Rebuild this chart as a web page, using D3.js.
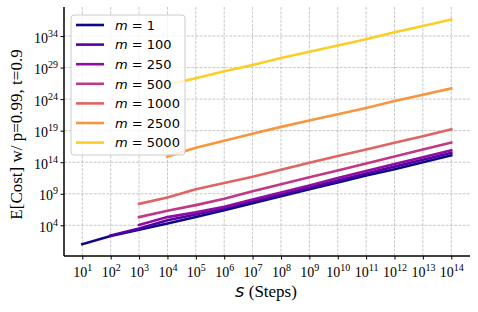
<!DOCTYPE html>
<html>
<head>
<meta charset="utf-8">
<script src="https://cdn.jsdelivr.net/npm/d3@7"></script>
<style>
  body { margin: 0; background: #fff; }
  svg { display: block; }
</style>
</head>
<body>
<svg id="chart"></svg>
<script>
const width = 478;
const height = 312;

// series labels (m values) and the steps at which each series starts
const mValues = [1, 100, 250, 500, 1000, 2500, 5000];
const startExp = [1, 2, 3, 3, 3, 4, 4];

// log10 of E[Cost], one value per decade of s starting at startExp
const cost_m1    = [1.0, 2.3, 3.3, 4.3, 5.3, 6.4, 7.5, 8.6, 9.7, 10.8, 11.9, 12.9, 14.0, 15.1];
const cost_m100  = [2.4, 3.5, 4.8, 5.7, 6.7, 7.8, 8.9, 10.0, 11.1, 12.2, 13.3, 14.4, 15.5];
const cost_m250  = [4.05, 5.3, 6.05, 6.95, 8.1, 9.2, 10.3, 11.5, 12.6, 13.7, 14.8, 15.9];
const cost_m500  = [5.3, 6.3, 7.2, 8.2, 9.4, 10.5, 11.6, 12.7, 13.8, 14.9, 16.0, 17.1];
const cost_m1000 = [7.4, 8.4, 9.7, 10.7, 11.7, 12.8, 13.9, 15.0, 16.0, 17.1, 18.1, 19.2];
const cost_m2500 = [14.9, 16.3, 17.4, 18.5, 19.6, 20.6, 21.6, 22.6, 23.7, 24.7, 25.7];
const cost_m5000 = [26.3, 27.3, 28.4, 29.4, 30.5, 31.5, 32.5, 33.5, 34.6, 35.6, 36.6];

const allCosts = [cost_m1, cost_m100, cost_m250, cost_m500, cost_m1000, cost_m2500, cost_m5000];

const xTickExps = d3.range(1, 15);
const yTickExps = [4, 9, 14, 19, 24, 29, 34];

const margin = {left: 64, right: 8, top: 7, bottom: 56};

const x = d3.scaleLog()
  .domain([Math.pow(10, 0.355), Math.pow(10, 14.66)])
  .range([margin.left, width - margin.right]);
const y = d3.scaleLog()
  .domain([Math.pow(10, -0.865), Math.pow(10, 38.6)])
  .range([height - margin.bottom, margin.top]);

const color = i => d3.interpolatePlasma(i * 0.15);

const svg = d3.select('#chart')
  .attr('width', width)
  .attr('height', height);

// grid
const grid = svg.append('g');
grid.selectAll('.vg').data(xTickExps).enter().append('line')
  .attr('x1', d => x(Math.pow(10, d))).attr('x2', d => x(Math.pow(10, d)))
  .attr('y1', margin.top).attr('y2', height - margin.bottom);
grid.selectAll('.hg').data(yTickExps).enter().append('line')
  .attr('y1', d => y(Math.pow(10, d))).attr('y2', d => y(Math.pow(10, d)))
  .attr('x1', margin.left).attr('x2', width - margin.right);
grid.selectAll('line')
  .attr('stroke', '#b0b0b0')
  .attr('stroke-width', 0.8)
  .attr('stroke-dasharray', '2.96,1.28')
  .attr('opacity', 0.85);

// lines
const line = d3.line()
  .x(d => x(Math.pow(10, d[0])))
  .y(d => y(Math.pow(10, d[1])));

allCosts.forEach((vals, i) => {
  const pts = vals.map((v, j) => [startExp[i] + j, v]);
  svg.append('path')
    .datum(pts)
    .attr('d', line)
    .attr('fill', 'none')
    .attr('stroke', color(i))
    .attr('stroke-width', 2.6)
    .attr('stroke-linecap', 'square')
    .attr('stroke-linejoin', 'round');
});

// axes
const xAxis = svg.append('g')
  .attr('transform', `translate(0,${height - margin.bottom})`)
  .call(d3.axisBottom(x).tickValues(xTickExps.map(d => Math.pow(10, d))).tickSize(3.5).tickSizeOuter(0));
xAxis.select('.domain').attr('d', `M${margin.left},0H${width - margin.right}`).attr('stroke-width', 1.5);
xAxis.selectAll('.tick line').attr('stroke-width', 1);
xAxis.selectAll('.tick text').each(function(d) {
  const t = d3.select(this).text('')
    .attr('y', 21).attr('dy', null)
    .attr('font-family', '"Liberation Serif", "Times New Roman", serif')
    .attr('font-size', 14).attr('fill', '#000');
  t.append('tspan').text('10');
  t.append('tspan').text(Math.round(Math.log10(d))).attr('font-size', 10).attr('dy', -6);
});

const yAxis = svg.append('g')
  .attr('transform', `translate(${margin.left},0)`)
  .call(d3.axisLeft(y).tickValues(yTickExps.map(d => Math.pow(10, d))).tickSize(3.5).tickSizeOuter(0));
yAxis.select('.domain').attr('d', `M0,${margin.top}V${height - margin.bottom}`).attr('stroke-width', 1.5);
yAxis.selectAll('.tick line').attr('stroke-width', 1);
yAxis.selectAll('.tick text').each(function(d) {
  const t = d3.select(this).text('')
    .attr('x', -6).attr('dy', null)
    .attr('text-anchor', 'end')
    .attr('font-family', '"Liberation Serif", "Times New Roman", serif')
    .attr('font-size', 14).attr('fill', '#000');
  t.append('tspan').text('10').attr('dy', 6);
  t.append('tspan').text(Math.round(Math.log10(d))).attr('font-size', 10).attr('dy', -6);
});

// axis titles
const xt = svg.append('text')
  .attr('x', 266).attr('y', 297)
  .attr('text-anchor', 'middle')
  .attr('font-family', '"Liberation Serif", "Times New Roman", serif')
  .attr('font-size', 17);
xt.append('tspan').text('s').attr('font-family', '"DejaVu Sans", sans-serif').attr('font-style', 'italic').attr('font-size', 18);
xt.append('tspan').text(' (Steps)');

svg.append('text')
  .attr('transform', `translate(22,${(margin.top + height - margin.bottom) / 2 + 3}) rotate(-90)`)
  .attr('text-anchor', 'middle')
  .attr('font-family', '"Liberation Serif", "Times New Roman", serif')
  .attr('font-size', 17)
  .text('E[Cost] w/ p=0.99, t=0.9');

// legend
const legend = svg.append('g');
legend.append('rect')
  .attr('x', 71).attr('y', 15).attr('width', 114).attr('height', 140)
  .attr('rx', 3)
  .attr('fill', '#fff').attr('fill-opacity', 0.8)
  .attr('stroke', '#cccccc').attr('stroke-width', 1);
mValues.forEach((m, i) => {
  const ly = 25 + i * 19.6;
  legend.append('line')
    .attr('x1', 76).attr('x2', 104).attr('y1', ly).attr('y2', ly)
    .attr('stroke', color(i)).attr('stroke-width', 2.6);
  const t = legend.append('text')
    .attr('x', 115).attr('y', ly + 4.8)
    .attr('font-family', '"DejaVu Sans", sans-serif')
    .attr('font-size', 13);
  t.append('tspan').text('m').attr('font-style', 'italic');
  t.append('tspan').text(' = ' + m);
});
</script>
</body>
</html>
